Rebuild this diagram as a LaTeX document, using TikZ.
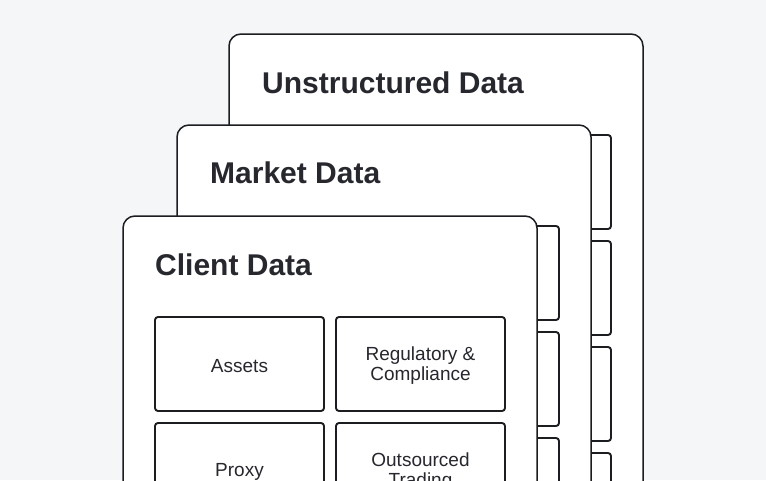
\documentclass[tikz,border=0pt]{standalone}
\usepackage{fontspec}
\setmainfont{Liberation Sans}
\definecolor{bg}{HTML}{F5F6F8}
\definecolor{ink}{HTML}{1C1D21}
\definecolor{txt}{HTML}{26282E}
\tikzset{
  card/.style={draw=ink, fill=white, line width=1.5pt, rounded corners=12pt},
  cell/.style={draw=ink, fill=white, line width=1.9pt, rounded corners=3pt},
  title/.style={anchor=base west, inner sep=0pt, text=txt, font=\fontsize{30}{34}\selectfont\bfseries},
  label/.style={align=center, inner sep=0pt, text=txt, font=\fontsize{19}{20}\selectfont}
}
\begin{document}
\begin{tikzpicture}[x=1pt,y=-1pt]
\fill[bg] (0,0) rectangle (766,480);
\useasboundingbox (0,0) rectangle (766,480);
\clip (0,0) rectangle (766,480);
% Unstructured Data card
\draw[card] (229,34) rectangle (643,540);
\node[title] (tU) at (262,93) {Unstructured Data};
\foreach \y in {135,241,347,453} \draw[cell] (442,\y) rectangle (611,\y+94);
% Market Data card
\draw[card] (177,125) rectangle (591,540);
\node[title] (tM) at (210,183) {Market Data};
\foreach \y in {226,332,438} \draw[cell] (390,\y) rectangle (559,\y+94);
% Client Data card
\draw[card] (123,216) rectangle (537,540);
\node[title] (tC) at (155,275) {Client Data};
\draw[cell] (155,317) rectangle (324,411);
\draw[cell] (336,317) rectangle (505,411);
\draw[cell] (155,423) rectangle (324,517);
\draw[cell] (336,423) rectangle (505,517);
\node[label] (assets) at (239.5,366) {Assets};
\node[label] (reg) at (420.5,366) {Regulatory \&\\Compliance};
\node[label] (proxy) at (239.5,472) {Proxy};
\node[label] (out) at (420.5,472) {Outsourced\\Trading};
\end{tikzpicture}
\end{document}
